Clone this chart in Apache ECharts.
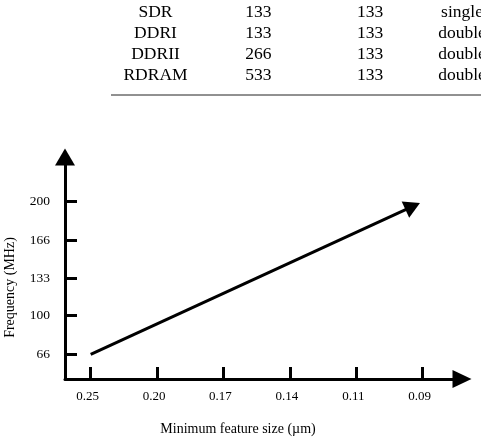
<!DOCTYPE html>
<html>
<head>
<meta charset="utf-8">
<script src="https://cdn.jsdelivr.net/npm/echarts@6/dist/echarts.min.js"></script>
<style>
  html, body { margin: 0; padding: 0; background: #fff; }
  #container { width: 481px; height: 440px; }
</style>
</head>
<body>
<div id="container"></div>
<script>
// table rows above the chart (last column is cut by the page edge)
var tableRows = [
  ['SDR', '133', '133', 'single'],
  ['DDRI', '133', '133', 'double'],
  ['DDRII', '266', '133', 'double'],
  ['RDRAM', '533', '133', 'double']
];

// x categories: minimum feature size (um)
var featureSizes = ['0.25', '0.20', '0.17', '0.14', '0.11', '0.09'];
// y tick labels: frequency (MHz)
var freqTicks = [66, 100, 133, 166, 200];
// trend arrow: from first size to last size
var trendSizes = ['0.25', '0.09'];
var trendFreqs = [66, 200];

var dom = document.getElementById('container');
var myChart = echarts.init(dom);

var serif = 'Liberation Serif';
var colX = [155.5, 258.3, 370, 462];
var rowY0 = 12, rowStep = 21.2;

var graphics = [];
tableRows.forEach(function (row, r) {
  row.forEach(function (cell, c) {
    graphics.push({
      type: 'text',
      x: colX[c],
      y: rowY0 + r * rowStep,
      style: {
        text: cell,
        fill: '#000',
        font: '17.5px ' + serif,
        textAlign: 'center',
        textVerticalAlign: 'middle'
      }
    });
  });
});
graphics.push({
  type: 'line',
  shape: { x1: 111, y1: 95, x2: 481, y2: 95 },
  style: { stroke: '#222', lineWidth: 1 }
});

var sizeIdx = featureSizes.map(function (s, i) { return i; });
var trendData = [[
  featureSizes.indexOf(trendSizes[0]), trendFreqs[0],
  featureSizes.indexOf(trendSizes[1]), trendFreqs[1]
]];

option = {
  backgroundColor: '#fff',
  animation: false,
  graphic: graphics,
  grid: { left: 65, right: 19, top: 157, bottom: 61, outerBoundsMode: 'none', containLabel: false },
  xAxis: {
    type: 'value',
    min: -0.387,
    max: 5.592,
    name: 'Minimum feature size (µm)',
    nameLocation: 'middle',
    nameGap: 43,
    nameTextStyle: { fontFamily: serif, fontSize: 14, color: '#000', padding: [0, 51, 0, 0] },
    axisLine: {
      show: true,
      onZero: false,
      symbol: ['none', 'triangle'],
      symbolSize: [18, 19],
      lineStyle: { color: '#000', width: 3 }
    },
    axisTick: {
      show: true,
      inside: true,
      length: 12,
      customValues: sizeIdx,
      lineStyle: { color: '#000', width: 3 }
    },
    axisLabel: {
      customValues: sizeIdx,
      margin: 11,
      fontFamily: serif,
      fontSize: 13,
      color: '#000',
      padding: [0, 6, 0, 0],
      formatter: function (v) { return featureSizes[Math.round(v)]; }
    },
    splitLine: { show: false }
  },
  yAxis: {
    type: 'value',
    min: 44.3,
    max: 239.25,
    name: 'Frequency (MHz)',
    nameLocation: 'middle',
    nameGap: 48,
    nameTextStyle: { fontFamily: serif, fontSize: 14, color: '#000', padding: [0, 39, 0, 0] },
    axisLine: {
      show: true,
      onZero: false,
      symbol: ['none', 'triangle'],
      symbolSize: [20, 17],
      lineStyle: { color: '#000', width: 3 }
    },
    axisTick: {
      show: true,
      inside: true,
      length: 12,
      customValues: freqTicks,
      lineStyle: { color: '#000', width: 3 }
    },
    axisLabel: {
      customValues: freqTicks,
      margin: 15,
      fontFamily: serif,
      fontSize: 13.5,
      color: '#000'
    },
    splitLine: { show: false }
  },
  series: [{
    type: 'custom',
    dimensions: ['x0', 'y0', 'x1', 'y1'],
    encode: { x: [0, 2], y: [1, 3] },
    data: trendData,
    renderItem: function (params, api) {
      var p0 = api.coord([api.value(0), api.value(1)]);
      var p1 = api.coord([api.value(2), api.value(3)]);
      var dx = p1[0] - p0[0], dy = p1[1] - p0[1];
      var len = Math.sqrt(dx * dx + dy * dy);
      var ux = dx / len, uy = dy / len;
      var tip = [p1[0] - ux * 3, p1[1] - uy * 3];
      var head = 16, half = 9;
      var base = [tip[0] - ux * head, tip[1] - uy * head];
      return {
        type: 'group',
        children: [{
          type: 'line',
          shape: { x1: p0[0], y1: p0[1], x2: base[0] + ux * 2, y2: base[1] + uy * 2 },
          style: { stroke: '#000', lineWidth: 3 }
        }, {
          type: 'polygon',
          shape: {
            points: [tip,
              [base[0] - uy * half, base[1] + ux * half],
              [base[0] + uy * half, base[1] - ux * half]]
          },
          style: { fill: '#000' }
        }]
      };
    }
  }]
};

if (option && typeof option === 'object') {
  myChart.setOption(option, true);
}
</script>
</body>
</html>
